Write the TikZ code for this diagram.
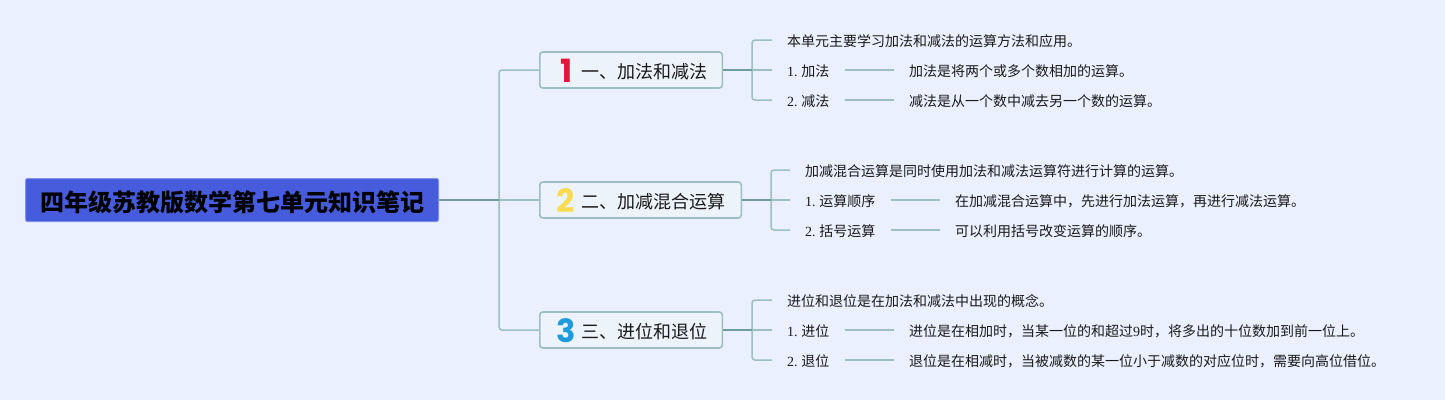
\documentclass[tikz,border=0pt]{standalone}
\usepackage{fontspec}
\setmainfont{Liberation Serif}
\newfontfamily\cjk{Noto Sans CJK SC}
\newfontfamily\iconfont{Poppins}[BoldFont=* Bold]
\definecolor{bgc}{HTML}{EAF0FD}
\definecolor{rootc}{HTML}{465CDC}
\definecolor{rootb}{HTML}{7F91E8}
\definecolor{boxc}{HTML}{EDF3FB}
\definecolor{linec}{HTML}{9DBFC4}
\definecolor{darkc}{HTML}{6E9E9C}
\definecolor{txt}{HTML}{1A1A1A}
\definecolor{ione}{HTML}{E0173A}
\definecolor{itwo}{HTML}{F8DC50}
\definecolor{ithree}{HTML}{1E9BDC}
\tikzset{
  x=1pt,y=-1pt,
  rootnode/.style={draw=rootb,line width=1pt,fill=rootc,rounded corners=2pt,inner sep=0pt,minimum width=413pt,minimum height=43pt,text=black,font=\cjk\bfseries\fontsize{24}{24}\selectfont,text height=22pt,text depth=0pt},
  topic/.style={draw=linec,line width=1.6pt,fill=boxc,rounded corners=3pt,inner sep=0pt,minimum height=36pt,anchor=west},
  topictext/.style={anchor=west,inner sep=0pt,text=txt,font=\cjk\fontsize{18}{18}\selectfont,text height=17pt,text depth=0.5pt},
  leaf/.style={anchor=west,inner xsep=15pt,inner ysep=0pt,text=txt,font=\cjk\fontsize{14}{14}\selectfont,text height=13.6pt,text depth=0.8pt},
  lite/.style={draw=linec,line width=1.5pt,rounded corners=3pt},
  dark/.style={draw=darkc,line width=1.6pt},
  icon/.style={anchor=center,inner sep=0pt,font=\iconfont\bfseries\fontsize{32}{32}\selectfont},
}
\newcommand{\ser}[1]{{\rmfamily #1\hspace{-1pt}}}
\begin{document}
\begin{tikzpicture}
\useasboundingbox (0,0) rectangle (1445,400);
\fill[bgc] (0,0) rectangle (1445,400);
% root
\node[rootnode] (root) at (232,200) {四年级苏教版数学第七单元知识笔记};
\coordinate (rs) at (499,200);
% topics
\node[topic,minimum width=182.5pt] (t1) at (539,70) {};
\node[topic,minimum width=201.5pt] (t2) at (539,200) {};
\node[topic,minimum width=182.5pt] (t3) at (539,330) {};
\node[topictext] (t1x) at (581,70) {一、加法和减法};
\node[topictext] (t2x) at (581,200) {二、加减混合运算};
\node[topictext] (t3x) at (581,330) {三、进位和退位};
\node[icon,text=ione] (i1) at (566.5,70.5) {1};
\node[icon,text=itwo] (i2) at (566,201) {2};
\node[icon,text=ithree] (i3) at (566,331) {3};
\coordinate (s1) at (752,70);
\coordinate (s2) at (771,200);
\coordinate (s3) at (752,330);
% leaves, branch 1
\node[leaf] (a0) at (772,40) {本单元主要学习加法和减法的运算方法和应用。};
\node[leaf] (a1) at (772,70) {\ser{1. }加法};
\node[leaf] (a2) at (772,100) {\ser{2. }减法};
\node[leaf] (a1d) at (894,70) {加法是将两个或多个数相加的运算。};
\node[leaf] (a2d) at (894,100) {减法是从一个数中减去另一个数的运算。};
% leaves, branch 2
\node[leaf] (b0) at (790,170) {加减混合运算是同时使用加法和减法运算符进行计算的运算。};
\node[leaf] (b1) at (790,200) {\ser{1. }运算顺序};
\node[leaf] (b2) at (790,230) {\ser{2. }括号运算};
\node[leaf] (b1d) at (940,200) {在加减混合运算中，先进行加法运算，再进行减法运算。};
\node[leaf] (b2d) at (940,230) {可以利用括号改变运算的顺序。};
% leaves, branch 3
\node[leaf] (c0) at (772,300) {进位和退位是在加法和减法中出现的概念。};
\node[leaf] (c1) at (772,330) {\ser{1. }进位};
\node[leaf] (c2) at (772,360) {\ser{2. }退位};
\node[leaf] (c1d) at (894,330) {进位是在相加时，当某一位的和超过{\rmfamily 9}时，将多出的十位数加到前一位上。};
\node[leaf] (c2d) at (894,360) {退位是在相减时，当被减数的某一位小于减数的对应位时，需要向高位借位。};
% connectors
\draw[lite] (rs) |- (t1.west);
\draw[lite] (rs) |- (t3.west);
\draw[lite] (rs) -- (t2.west);
\draw[dark] (root.east) -- (rs);
\draw[lite] (s1) |- (a0.west);
\draw[lite] (s1) |- (a2.west);
\draw[lite] (s1) -- (a1.west);
\draw[dark] (t1.east) -- (s1);
\draw[lite] (a1.east) -- (a1d.west);
\draw[lite] (a2.east) -- (a2d.west);
\draw[lite] (s2) |- (b0.west);
\draw[lite] (s2) |- (b2.west);
\draw[lite] (s2) -- (b1.west);
\draw[dark] (t2.east) -- (s2);
\draw[lite] (b1.east) -- (b1d.west);
\draw[lite] (b2.east) -- (b2d.west);
\draw[lite] (s3) |- (c0.west);
\draw[lite] (s3) |- (c2.west);
\draw[lite] (s3) -- (c1.west);
\draw[dark] (t3.east) -- (s3);
\draw[lite] (c1.east) -- (c1d.west);
\draw[lite] (c2.east) -- (c2d.west);
\end{tikzpicture}
\end{document}
